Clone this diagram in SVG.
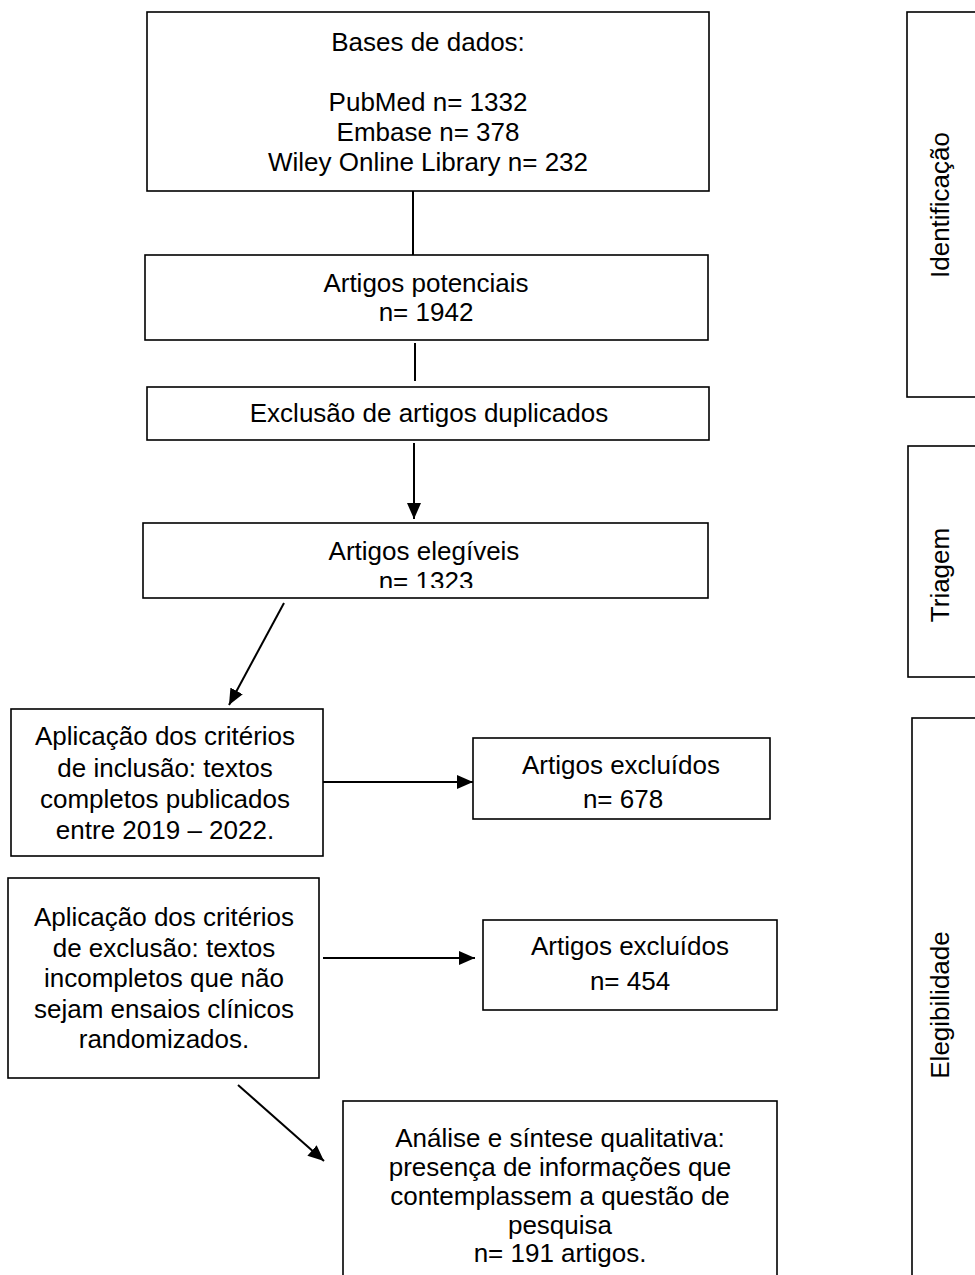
<svg xmlns="http://www.w3.org/2000/svg" width="975" height="1275" viewBox="0 0 975 1275">
<style>
.box{fill:#fff;stroke:#000;stroke-width:1.6}
.t{font-family:"Liberation Sans",Arial,sans-serif;font-size:26px;fill:#000;text-anchor:middle}
.c{stroke:#000;stroke-width:2;fill:none}
</style>
<defs>
<marker id="ah" markerUnits="userSpaceOnUse" markerWidth="16" markerHeight="14" refX="16" refY="7" orient="auto">
<path d="M0,0 L16,7 L0,14 z" fill="#000"/>
</marker>
<clipPath id="clip4"><rect x="143" y="523" width="566" height="65"/></clipPath>
</defs>
<rect width="975" height="1275" fill="#fff"/>

<g id="n1">
<rect class="box" x="147" y="12" width="562" height="179"/>
<text class="t" x="428" y="51">Bases de dados:</text>
<text class="t" x="428" y="111">PubMed n= 1332</text>
<text class="t" x="428" y="141">Embase n= 378</text>
<text class="t" x="428" y="171">Wiley Online Library n= 232</text>
</g>
<g id="n2">
<rect class="box" x="145" y="255" width="563" height="85"/>
<text class="t" x="426" y="292">Artigos potenciais</text>
<text class="t" x="426" y="321">n= 1942</text>
</g>
<g id="n3">
<rect class="box" x="147" y="387" width="562" height="53"/>
<text class="t" x="429" y="422">Exclusão de artigos duplicados</text>
</g>
<g id="n4">
<rect class="box" x="143" y="523" width="565" height="75"/>
<text class="t" x="424" y="560">Artigos elegíveis</text>
<text class="t" x="426" y="590" clip-path="url(#clip4)">n= 1323</text>
</g>
<g id="n5">
<rect class="box" x="11" y="709" width="312" height="147"/>
<text class="t" x="165" y="745">Aplicação dos critérios</text>
<text class="t" x="165" y="777">de inclusão: textos</text>
<text class="t" x="165" y="808">completos publicados</text>
<text class="t" x="165" y="839">entre 2019 – 2022.</text>
</g>
<g id="n6">
<rect class="box" x="473" y="738" width="297" height="81"/>
<text class="t" x="621" y="774">Artigos excluídos</text>
<text class="t" x="623" y="808">n= 678</text>
</g>
<g id="n7">
<rect class="box" x="8" y="878" width="311" height="200"/>
<text class="t" x="164" y="926">Aplicação dos critérios</text>
<text class="t" x="164" y="957">de exclusão: textos</text>
<text class="t" x="164" y="987">incompletos que não</text>
<text class="t" x="164" y="1018">sejam ensaios clínicos</text>
<text class="t" x="164" y="1048">randomizados.</text>
</g>
<g id="n8">
<rect class="box" x="483" y="920" width="294" height="90"/>
<text class="t" x="630" y="955">Artigos excluídos</text>
<text class="t" x="630" y="990">n= 454</text>
</g>
<g id="n9">
<rect class="box" x="343" y="1101" width="434" height="200"/>
<text class="t" x="560" y="1147">Análise e síntese qualitativa:</text>
<text class="t" x="560" y="1176">presença de informações que</text>
<text class="t" x="560" y="1205">contemplassem a questão de</text>
<text class="t" x="560" y="1234">pesquisa</text>
<text class="t" x="560" y="1262">n= 191 artigos.</text>
</g>
<g id="s1">
<rect class="box" x="907" y="12" width="100" height="385"/>
<text class="t" transform="translate(949,205) rotate(-90)">Identificação</text>
</g>
<g id="s2">
<rect class="box" x="908" y="446" width="100" height="231"/>
<text class="t" transform="translate(949,575) rotate(-90)">Triagem</text>
</g>
<g id="s3">
<rect class="box" x="912" y="718" width="100" height="600"/>
<text class="t" transform="translate(949,1005) rotate(-90)">Elegibilidade</text>
</g>

<g id="connectors">
<line class="c" x1="413" y1="191" x2="413" y2="255"/>
<line class="c" x1="415" y1="343" x2="415" y2="381"/>
<line class="c" x1="414" y1="443" x2="414" y2="519" marker-end="url(#ah)"/>
<line class="c" x1="284" y1="603" x2="229" y2="705" marker-end="url(#ah)"/>
<line class="c" x1="323" y1="782" x2="473" y2="782" marker-end="url(#ah)"/>
<line class="c" x1="323" y1="958" x2="475" y2="958" marker-end="url(#ah)"/>
<line class="c" x1="238" y1="1085" x2="324" y2="1161" marker-end="url(#ah)"/>
</g>
</svg>
